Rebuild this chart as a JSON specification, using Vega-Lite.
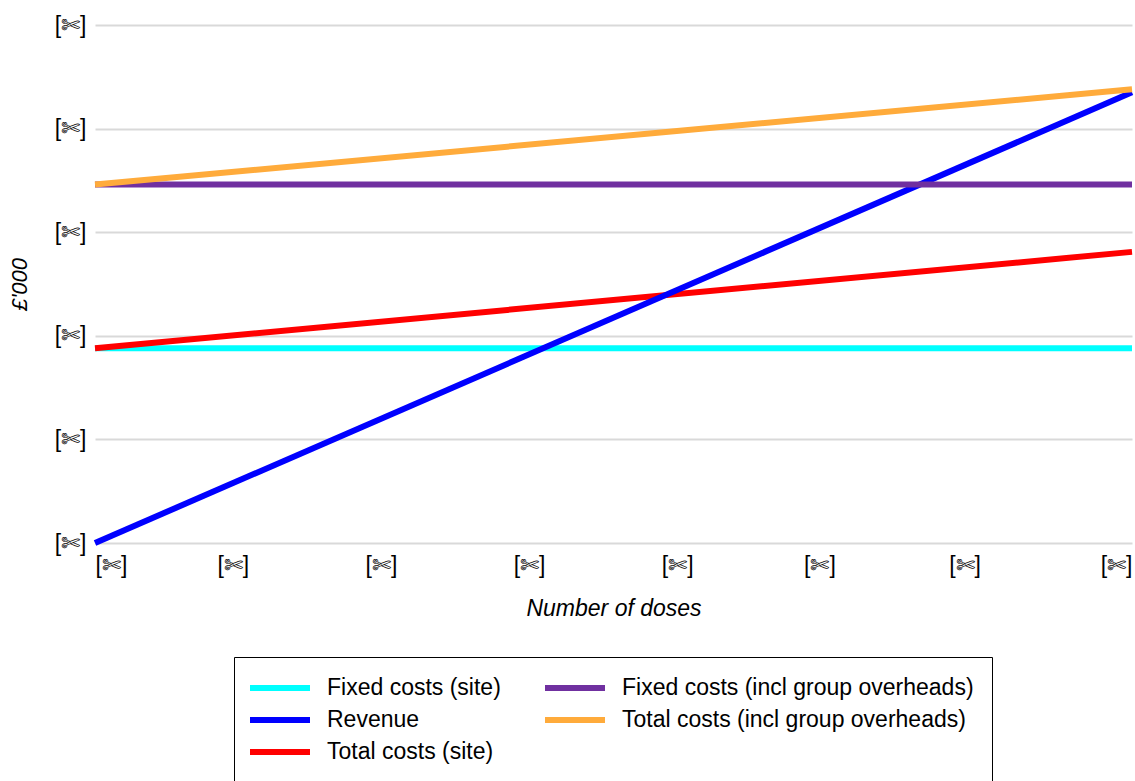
{
  "$schema": "https://vega.github.io/schema/vega-lite/v6.json",
  "width": 1037,
  "height": 518,
  "autosize": {"type": "none"},
  "padding": {"left": 95, "top": 25, "right": 3, "bottom": 238},
  "background": "#ffffff",
  "config": {
    "view": {"stroke": null},
    "font": "Liberation Sans"
  },
  "data": {
    "values": [
      {"series": "Fixed costs (site)", "doses": 0, "value": 18.8},
      {"series": "Fixed costs (site)", "doses": 7000, "value": 18.8},
      {"series": "Total costs (site)", "doses": 0, "value": 18.8},
      {"series": "Total costs (site)", "doses": 7000, "value": 28.1},
      {"series": "Revenue", "doses": 0, "value": 0},
      {"series": "Revenue", "doses": 7000, "value": 43.5},
      {"series": "Fixed costs (incl group overheads)", "doses": 0, "value": 34.6},
      {"series": "Fixed costs (incl group overheads)", "doses": 7000, "value": 34.6},
      {"series": "Total costs (incl group overheads)", "doses": 0, "value": 34.6},
      {"series": "Total costs (incl group overheads)", "doses": 7000, "value": 43.8}
    ]
  },
  "mark": {"type": "line", "strokeWidth": 6, "strokeCap": "butt"},
  "encoding": {
    "x": {
      "field": "doses",
      "type": "quantitative",
      "scale": {"domain": [0, 7000], "nice": false, "zero": false},
      "axis": {
        "values": [0, 930, 1930, 2930, 3930, 4890, 5870, 7000],
        "labelExpr": "'[✄]'",
        "labelFlush": true,
        "labelFont": "Liberation Sans",
        "labelFontSize": 23,
        "labelColor": "#000000",
        "labelPadding": 11,
        "domain": false,
        "ticks": false,
        "grid": false,
        "title": "Number of doses",
        "titleFont": "Liberation Sans",
        "titleFontSize": 23,
        "titleFontStyle": "italic",
        "titleFontWeight": "normal",
        "titleColor": "#000000",
        "titlePadding": 20
      }
    },
    "y": {
      "field": "value",
      "type": "quantitative",
      "scale": {"domain": [0, 50], "nice": false},
      "axis": {
        "values": [0, 10, 20, 30, 40, 50],
        "labelExpr": "'[✄]'",
        "labelFont": "Liberation Sans",
        "labelFontSize": 23,
        "labelColor": "#000000",
        "labelPadding": 9,
        "domain": false,
        "ticks": false,
        "grid": true,
        "gridColor": "#d9d9d9",
        "gridWidth": 2,
        "title": "£'000",
        "titleFont": "Liberation Sans",
        "titleFontSize": 22,
        "titleFontStyle": "italic",
        "titleFontWeight": "normal",
        "titleColor": "#000000",
        "titlePadding": 23
      }
    },
    "color": {
      "field": "series",
      "type": "nominal",
      "scale": {
        "domain": [
          "Fixed costs (site)",
          "Revenue",
          "Total costs (site)",
          "Fixed costs (incl group overheads)",
          "Total costs (incl group overheads)"
        ],
        "range": ["#00ffff", "#0000ff", "#ff0000", "#7030a0", "#ffab3b"]
      },
      "legend": {
        "title": null,
        "orient": "none",
        "legendX": 139,
        "legendY": 632,
        "columns": 2,
        "columnPadding": 32,
        "rowPadding": 7,
        "symbolType": "M-1.5,0H4.5",
        "symbolSize": 400,
        "symbolStrokeWidth": 6,
        "labelOffset": 49,
        "labelFont": "Liberation Sans",
        "labelFontSize": 23,
        "labelColor": "#000000",
        "labelLimit": 500,
        "strokeColor": "#000000",
        "fillColor": "#ffffff",
        "padding": 18
      }
    }
  }
}
